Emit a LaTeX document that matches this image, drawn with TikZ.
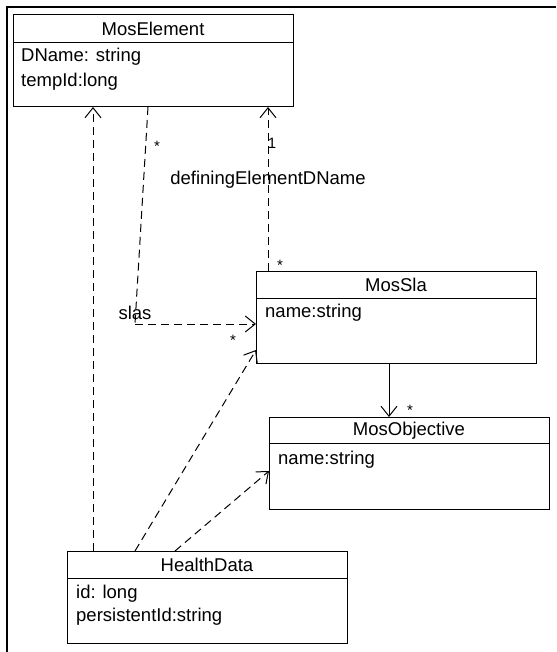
\documentclass[tikz,border=0pt]{standalone}
\usepackage{fontspec}
\setmainfont{Liberation Sans}
\usetikzlibrary{arrows.meta}
\tikzset{
  classbox/.style={draw,line width=1pt,anchor=north west,inner sep=0pt,outer sep=0pt,minimum width=280pt,minimum height=92pt},
  classname/.style={inner sep=0pt,font=\fontsize{18.5}{22}\selectfont},
  attr/.style={anchor=west,inner sep=0pt,font=\fontsize{18.5}{22}\selectfont},
  mult/.style={inner sep=0pt,font=\fontsize{15}{18}\selectfont},
  dep/.style={line width=1pt,dash pattern=on 8pt off 5pt,-{Straight Barb[length=10pt,width=16pt,line width=1pt]}},
  assoc/.style={line width=1pt,-{Straight Barb[length=10pt,width=16pt,line width=1pt]}}
}
\begin{document}
\begin{tikzpicture}[x=1pt,y=-1pt]
 \useasboundingbox (0,0) rectangle (556,652);
 % frame
 \draw[line width=1.5pt] (7,652) -- (7,7) -- (556,7);
 % classes
 \node[classbox] (mosElement) at (13,15) {};
 \draw[line width=1pt] (13,43) -- (293,43);
 \node[classname] (mosElementName) at (153,29) {MosElement};
 \node[attr] (mosElementA1) at (21,57) {DName: string};
 \node[attr] (mosElementA2) at (21,82) {tempId:long};

 \node[classbox] (mosSla) at (256,271) {};
 \draw[line width=1pt] (256,298) -- (536,298);
 \node[classname] (mosSlaName) at (396,285) {MosSla};
 \node[attr] (mosSlaA1) at (265,313) {name:string};

 \node[classbox] (mosObjective) at (269,417) {};
 \draw[line width=1pt] (269,443) -- (549,443);
 \node[classname] (mosObjectiveName) at (409,431) {MosObjective};
 \node[attr] (mosObjectiveA1) at (278,460) {name:string};

 \node[classbox] (healthData) at (67,551) {};
 \draw[line width=1pt] (67,578) -- (347,578);
 \node[classname] (healthDataName) at (207,565) {HealthData};
 \node[attr] (healthDataA1) at (76,594) {id: long};
 \node[attr] (healthDataA2) at (76,617) {persistentId:string};

 % connectors
 \coordinate (slasBend) at (135,324);
 \draw[dep] ([xshift=26pt]healthData.north west) -- ([xshift=80pt]mosElement.south west);
 \draw[line width=1pt,dash pattern=on 8pt off 5pt] ([xshift=135pt]mosElement.south west) -- (slasBend);
 \draw[dep] (slasBend) -- ([yshift=-53pt]mosSla.north west);
 \draw[dep] ([xshift=12pt]mosSla.north west) -- ([xshift=255pt]mosElement.south west);
 \draw[assoc] ([xshift=133pt]mosSla.south west) -- ([xshift=120pt]mosObjective.north west);
 \draw[dep] ([xshift=68pt]healthData.north west) -- ([yshift=-79pt]mosSla.north west);
 \draw[dep] ([xshift=108pt]healthData.north west) -- ([yshift=-54pt]mosObjective.north west);

 % labels
 \node[mult] (slasFrom) at (157,146) {*};
 \node[classname] (slasLabel) at (135,313) {slas};
 \node[mult] (slasTo) at (233,340) {*};
 \node[mult] (defFrom) at (272,143) {1};
 \node[classname] (defLabel) at (268,180) {definingElementDName};
 \node[mult] (defTo) at (280,265) {*};
 \node[mult] (objTo) at (410,410) {*};
\end{tikzpicture}
\end{document}
